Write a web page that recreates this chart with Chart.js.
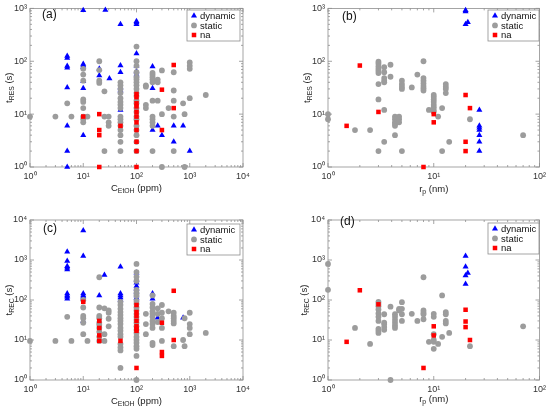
<!DOCTYPE html>
<html>
<head>
<meta charset="utf-8">
<script src="https://cdn.jsdelivr.net/npm/chart.js@4.4.0/dist/chart.umd.min.js"></script>
<style>
  html, body { margin: 0; padding: 0; background: #fff; }
  #wrap { position: relative; width: 550px; height: 412px; }
  .panel { position: absolute; left: 0; top: 0; width: 550px; height: 412px; }
</style>
</head>
<body>
<div id="wrap">
  <div class="panel"><canvas id="chartA"></canvas></div>
  <div class="panel"><canvas id="chartB"></canvas></div>
  <div class="panel"><canvas id="chartC"></canvas></div>
  <div class="panel"><canvas id="chartD"></canvas></div>
</div>
<script>
// series names and tick values
const seriesNames = ['dynamic', 'static', 'na'];
const concTicks = [1, 10, 100, 1000, 10000];
const radiusTicks = [1, 10, 100];
const resTicks = [1, 10, 100, 1000];
const recTicks = [1, 10, 100, 1000, 10000];

// (a) t_RES vs C_EtOH  -- [x, y]
const aDynamic = [
  [5,126],[5,115],[5,81],[5,75],[5,32],[5,6],[5,2],[5,1],
  [10,920],[10,89],[10,83],[10,77],[10,42],[10,31],[10,4],
  [20,72],[20,54],[26,930],[31,47],
  [50,500],[50,83],[50,62],[50,32],[50,28],[50,12],
  [100,570],[100,540],[100,500],[100,140],[100,82],[100,64],[100,56],
  [200,80],[200,31],[200,5],[250,6],[300,4],[500,6],[500,3],[750,6],[1000,2]
];
const aStatic = [
  [1,9],[3,9],[5,16],[6,9],
  [10,72],[10,56],[10,43],[10,19],[10,17],[10,13],[10,9],[10,8],[10,7],
  [12,9],
  [20,100],[20,68],[20,43],[20,39],
  [25,27],[25,9],[25,2],
  [30,9],[30,7],[30,6],
  [50,40],[50,35],[50,30],[50,25],[50,20],[50,17],[50,15],[50,13],[50,9],[50,8],[50,7],[50,6],[50,5],[50,4],[50,3],[50,2],
  [100,190],[100,100],[100,82],[100,62],[100,50],[100,45],[100,40],[100,35],[100,30],[100,25],[100,22],[100,18],[100,16],[100,13],[100,11],[100,9],[100,8],[100,6],[100,5],[100,4],[100,3],[100,2],
  [150,35],[150,33],[150,15],[150,13],
  [200,60],[200,55],[200,50],[200,45],[200,40],[200,18],[200,9],[200,8],[200,7],[200,6],[200,2],
  [250,45],[250,40],[250,18],
  [300,67],[300,10],[300,1],
  [400,13],
  [500,62],[500,28],[500,18],[500,9],[500,2],
  [750,16],[800,10],[800,1],
  [1000,95],[1000,82],[1000,72],[1000,20],
  [2000,23]
];
const aNa = [
  [10,9],[20,10],[20,5],[20,4],[20,1],[50,6],
  [100,24],[100,21],[100,16],[100,14],[100,11],[100,9],[100,7],[100,5],[100,3],[100,2],[100,1],
  [300,29],[300,5],[500,85],[500,13]
];

// (b) t_RES vs r_p
const bDynamic = [[20,920],[20,870],[20,500],[21,550],[27,12],[27,6],[27,5.5],[27,5],[27,4],[27,3],[27,2]];
const bStatic = [
  [1,10],[1,8],[1.8,5],[2.5,5],
  [3,98],[3,90],[3,80],[3,72],[3,66],[3,60],[3,37],[3,19],[3,2],
  [3.4,77],[3.4,62],[3.4,48],[3.4,43],[3.4,40],[3.4,12],[3.4,3],
  [3.9,86],[3.9,51],
  [4.3,9],[4.3,8],[4.3,7],[4.3,6.5],[4.3,6],[4.3,4],
  [4.7,9],[4.7,8],[4.7,7],
  [5,43],[5,37],[5,33],[5,30],[5,2],
  [6.2,32],[7,56],
  [8,100],[8,48],[8,43],[8,38],[8,34],[8,31],[8,28],
  [9,12],
  [10,23],[10,21],[10,19],[10,17],[10,15],[10,13.5],[10,12],[10,11],
  [11,9],[12,13],[12,2],
  [13,37],[13,33],[13,30],[13,25],
  [14,3],[22,8],[70,4]
];
const bNa = [[1.5,6],[2,83],[3,11],[8,1],[10,10],[10,7],[20,23],[20,3],[20,2],[22,13]];

// (c) t_REC vs C_EtOH
const cDynamic = [
  [5,1600],[5,950],[5,700],[5,640],[5,580],[5,145],[5,130],[5,120],[5,108],
  [10,5500],[10,1250],[10,145],[10,130],[10,120],[10,108],[10,30],
  [20,130],[25,420],
  [50,680],[50,145],[50,130],[50,115],[50,102],
  [100,480],[100,320],[100,270],[100,225],[100,190],[100,160],[100,130],[100,112],
  [200,145],[200,108],[250,36],[750,36]
];
const cStatic = [
  [1,9.5],[3,9.5],[5,38],[6,9.5],
  [10,100],[10,65],[10,40],[10,35],[10,27],[10,14],
  [12,9.5],
  [20,370],[20,65],[20,40],[20,35],[20,27],[20,24],[20,20],[20,16],[20,12],[20,9.5],
  [25,62],[25,14],[25,9.5],
  [30,55],[30,48],[30,34],[30,22],
  [50,90],[50,75],[50,60],[50,50],[50,42],[50,35],[50,30],[50,25],[50,20],[50,17],[50,14],[50,12],[50,8],[50,6.5],[50,5.5],[50,2],
  [100,800],[100,500],[100,380],[100,300],[100,180],[100,150],[100,130],[100,95],[100,80],[100,65],[100,55],[100,45],[100,38],[100,32],[100,27],[100,22],[100,18],[100,15],[100,12],[100,10],[100,8.5],[100,7],[100,6],[100,4],[100,1],
  [150,45],[150,25],[150,14],
  [200,130],[200,80],[200,65],[200,52],[200,45],[200,38],[200,30],[200,25],[200,20],[200,8.5],[200,7.5],
  [250,62],[250,45],[250,28],
  [300,75],[300,48],[300,35],[300,20],[300,9.5],
  [400,52],
  [500,48],[500,40],[500,35],[500,30],[500,26],[500,7],
  [750,10],[800,35],[800,7],
  [1000,48],[1000,25],[1000,20],[1000,14],
  [2000,15]
];
const cNa = [
  [10,90],[20,30],[20,20],[20,13],[20,9.5],[50,9.5],
  [100,75],[100,50],[100,40],[100,30],[100,22],[100,19],[100,17],[100,2],
  [300,27],[300,5],[300,4],[500,170],[500,10]
];

// (d) t_REC vs r_p
const dDynamic = [[20,1250],[20,680],[21,470],[20,410],[20,250]];
const dStatic = [
  [1,800],[1,180],[1.8,20],[2.5,8],
  [3,90],[3,80],[3,70],[3,58],[3,46],[3,38],[3,30],[3,19],[3,17],[3,15],
  [3.4,44],[3.4,27],[3.4,25],[3.4,21],[3.4,18],
  [3.9,68],[3.9,1],
  [4.3,44],[4.3,38],[4.3,32],[4.3,27],[4.3,23],[4.3,20],
  [4.7,60],[4.7,55],
  [5,88],[5,60],[5,44],[5,30],
  [6.2,45],[7,30],
  [8,370],[8,55],[8,48],[8,44],[8,33],
  [9,9],
  [10,45],[10,38],[10,14],[10,10],[10,9],[10,6],
  [11,8],[12,130],[12,12],
  [13,50],[13,44],[13,30],[13,26],
  [14,15],[22,7],[70,22]
];
const dNa = [[1.5,9],[2,175],[3,78],[8,2],[10,22],[10,13],[20,57],[20,29],[20,21],[22,10]];

const FONT = '"Liberation Sans", Arial, sans-serif';
const SUP = { '0': '\u2070', '1': '\u00b9', '2': '\u00b2', '3': '\u00b3', '4': '\u2074' };
const styles = [
  { pointStyle: 'triangle', radius: 3.5, color: '#0000ff', order: 2 },
  { pointStyle: 'circle', radius: 2.9, color: '#9c9c9c', order: 1 },
  { pointStyle: 'rect', radius: 3.2, color: '#ff0000', order: 0 }
];

function tickLabel(v) {
  return '10' + SUP[String(Math.round(Math.log10(v)))];
}

// frame, inward log ticks, titles, panel tag and legend
const panelDeco = {
  id: 'panelDeco',
  beforeDatasetsDraw(chart, args, opts) {
    const ctx = chart.ctx;
    const a = chart.chartArea;
    const xs = chart.scales.x, ys = chart.scales.y;
    ctx.save();
    ctx.strokeStyle = '#8e8e8e';
    ctx.lineWidth = 0.8;
    ctx.strokeRect(a.left, a.top, a.right - a.left, a.bottom - a.top);
    ctx.beginPath();
    logTicks(xs, (p, len) => {
      ctx.moveTo(p, a.bottom); ctx.lineTo(p, a.bottom - len);
      ctx.moveTo(p, a.top); ctx.lineTo(p, a.top + len);
    });
    logTicks(ys, (p, len) => {
      ctx.moveTo(a.left, p); ctx.lineTo(a.left + len, p);
      ctx.moveTo(a.right, p); ctx.lineTo(a.right - len, p);
    });
    ctx.stroke();
    ctx.restore();
  },
  afterDraw(chart, args, opts) {
    const ctx = chart.ctx;
    const a = chart.chartArea;
    ctx.save();
    ctx.fillStyle = '#111';
    ctx.font = '12px ' + FONT;
    ctx.textBaseline = 'middle';
    ctx.textAlign = 'left';
    ctx.fillText(opts.tag, opts.tagPos[0], opts.tagPos[1]);

    ctx.fillStyle = '#222';
    subText(ctx, opts.xTitle, (a.left + a.right) / 2, opts.xTitleY, 9.5, false);
    subText(ctx, opts.yTitle, opts.yTitleX, (a.top + a.bottom) / 2, 9.5, true);

    // legend
    const L = opts.legend;
    ctx.fillStyle = '#fff';
    ctx.fillRect(L.x, L.y, L.w, L.h);
    ctx.strokeStyle = '#8e8e8e';
    ctx.lineWidth = 0.8;
    ctx.strokeRect(L.x, L.y, L.w, L.h);
    ctx.font = '9.5px ' + FONT;
    ctx.textAlign = 'left';
    ctx.textBaseline = 'middle';
    chart.data.datasets.forEach((ds, i) => {
      const cy = L.y + 5.8 + i * 9.6;
      ctx.fillStyle = ds.backgroundColor;
      Chart.helpers.drawPoint(ctx, {
        pointStyle: ds.pointStyle, radius: ds.pointRadius, rotation: 0, borderWidth: 0
      }, L.x + 7, cy);
      ctx.fillStyle = '#111';
      ctx.fillText(ds.label, L.x + 13, cy + 0.5);
    });
    ctx.restore();
  }
};

function logTicks(scale, fn) {
  const lo = Math.round(Math.log10(scale.min));
  const hi = Math.round(Math.log10(scale.max));
  for (let e = lo; e <= hi; e++) {
    for (let m = 1; m < 10; m++) {
      const v = m * Math.pow(10, e);
      if (v > scale.max * 1.0001) break;
      fn(scale.getPixelForValue(v), m === 1 ? 4 : 2);
    }
  }
}

// parts: [[text, isSub], ...] drawn centered at (x, y)
function subText(ctx, parts, x, y, size, vertical) {
  const fonts = parts.map(p => (p[1] ? size * 0.72 : size) + 'px ' + FONT);
  let total = 0;
  const widths = parts.map((p, i) => { ctx.font = fonts[i]; const w = ctx.measureText(p[0]).width; total += w; return w; });
  ctx.save();
  ctx.translate(x, y);
  if (vertical) ctx.rotate(-Math.PI / 2);
  ctx.textAlign = 'left';
  ctx.textBaseline = 'middle';
  let cx = -total / 2;
  parts.forEach((p, i) => {
    ctx.font = fonts[i];
    ctx.fillText(p[0], cx, p[1] ? size * 0.35 : 0);
    cx += widths[i];
  });
  ctx.restore();
}

function makeDatasets(dyn, stat, na) {
  return [dyn, stat, na].map((list, i) => ({
    label: seriesNames[i],
    data: list.map(p => ({ x: p[0], y: p[1] })),
    pointStyle: styles[i].pointStyle,
    pointRadius: styles[i].radius,
    backgroundColor: styles[i].color,
    pointBackgroundColor: styles[i].color,
    pointBorderWidth: 0,
    order: styles[i].order,
    clip: false
  }));
}

function axis(min, max, ticks, isX) {
  return {
    type: 'logarithmic',
    min: min,
    max: max,
    afterBuildTicks: s => { s.ticks = ticks.map(v => ({ value: v })); },
    afterFit: s => { if (isX) s.height = 20; else s.width = 30; },
    grid: { display: false, drawTicks: false },
    border: { display: false },
    ticks: {
      callback: v => tickLabel(v),
      autoSkip: false,
      maxRotation: 0,
      padding: isX ? 4 : 3,
      color: '#333',
      font: { family: FONT, size: 9 }
    }
  };
}

function makePanel(id, area, xAx, yAx, sets, deco) {
  const yW = 30, xH = 20;
  new Chart(document.getElementById(id), {
    type: 'scatter',
    data: { datasets: sets },
    options: {
      responsive: true,
      maintainAspectRatio: false,
      animation: false,
      events: [],
      layout: {
        padding: {
          left: area[0] - yW,
          top: area[1],
          right: 550 - area[2],
          bottom: 412 - area[3] - xH
        }
      },
      scales: { x: xAx, y: yAx },
      plugins: { legend: { display: false }, tooltip: { enabled: false }, panelDeco: deco }
    },
    plugins: [panelDeco]
  });
}

const concTitle = [['C', false], ['EtOH', true], [' (ppm)', false]];
const radiusTitle = [['r', false], ['p', true], [' (nm)', false]];
const resTitle = [['t', false], ['RES', true], [' (s)', false]];
const recTitle = [['t', false], ['REC', true], [' (s)', false]];

makePanel('chartA', [30, 7, 243, 167],
  axis(1, 10000, concTicks, true), axis(1, 1000, resTicks, false),
  makeDatasets(aDynamic, aStatic, aNa),
  { tag: '(a)', tagPos: [42, 15], xTitle: concTitle, xTitleY: 188, yTitle: resTitle, yTitleX: 9,
    legend: { x: 187, y: 10, w: 53, h: 31 } });

makePanel('chartB', [328, 7, 542, 167],
  axis(1, 100, radiusTicks, true), axis(1, 1000, resTicks, false),
  makeDatasets(bDynamic, bStatic, bNa),
  { tag: '(b)', tagPos: [342, 17], xTitle: radiusTitle, xTitleY: 189, yTitle: resTitle, yTitleX: 307,
    legend: { x: 488, y: 10, w: 51, h: 31 } });

makePanel('chartC', [30, 220, 243, 380],
  axis(1, 10000, concTicks, true), axis(1, 10000, recTicks, false),
  makeDatasets(cDynamic, cStatic, cNa),
  { tag: '(c)', tagPos: [43, 229], xTitle: concTitle, xTitleY: 401, yTitle: recTitle, yTitleX: 9,
    legend: { x: 187, y: 224, w: 53, h: 31 } });

makePanel('chartD', [328, 220, 542, 380],
  axis(1, 100, radiusTicks, true), axis(1, 10000, recTicks, false),
  makeDatasets(dDynamic, dStatic, dNa),
  { tag: '(d)', tagPos: [340, 222], xTitle: radiusTitle, xTitleY: 399, yTitle: recTitle, yTitleX: 304,
    legend: { x: 488, y: 223, w: 51, h: 31 } });
</script>
</body>
</html>
